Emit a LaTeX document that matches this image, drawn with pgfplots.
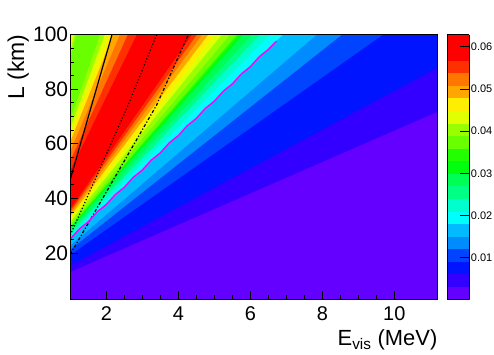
\documentclass[border=0pt]{standalone}
\usepackage{pgfplots}
\pgfplotsset{compat=1.18}
\usepackage{fontspec}
\setmainfont{Liberation Sans}

% ROOT "pretty" palette, 20 contour levels (violet -> red)
\definecolor{c0}{RGB}{99,0,255}
\definecolor{c1}{RGB}{51,0,255}
\definecolor{c2}{RGB}{0,20,255}
\definecolor{c3}{RGB}{0,68,255}
\definecolor{c4}{RGB}{0,139,255}
\definecolor{c5}{RGB}{0,187,255}
\definecolor{c6}{RGB}{0,255,252}
\definecolor{c7}{RGB}{0,255,204}
\definecolor{c8}{RGB}{0,255,133}
\definecolor{c9}{RGB}{0,255,85}
\definecolor{c10}{RGB}{0,255,14}
\definecolor{c11}{RGB}{34,255,0}
\definecolor{c12}{RGB}{105,255,0}
\definecolor{c13}{RGB}{153,255,0}
\definecolor{c14}{RGB}{224,255,0}
\definecolor{c15}{RGB}{255,238,0}
\definecolor{c16}{RGB}{255,167,0}
\definecolor{c17}{RGB}{255,119,0}
\definecolor{c18}{RGB}{255,48,0}
\definecolor{c19}{RGB}{255,0,0}
\definecolor{rootmag}{RGB}{255,0,255}

\begin{document}
\begin{tikzpicture}
\useasboundingbox (-70.3bp,-55.7bp) rectangle (423.7bp,299.3bp);
\begin{axis}[
  at={(0,0)}, anchor=south west,
  scale only axis, width=367.2bp, height=264.8bp,
  xmin=1, xmax=11.2, ymin=3, ymax=100,
  axis on top,
  xtick={2,4,6,8,10}, ytick={20,40,60,80,100},
  minor x tick num=3, minor y tick num=3,
  tick align=inside, tick pos=left,
  major tick length=8bp, minor tick length=4bp,
  tick style={black, line width=0.6bp},
  axis line style={line width=0.6bp},
  /pgf/number format/assume math mode=true,
  xticklabel style={font=\fontsize{20}{24}\selectfont, anchor=base, yshift=-21.4bp, inner sep=0pt},
  yticklabel style={font=\fontsize{21}{25}\selectfont, anchor=east, inner sep=0pt, xshift=-2bp},
  xlabel={E\textsubscript{vis} (MeV)},
  ylabel={L (km)},
  every axis x label/.style={at={(axis description cs:1,-0.1726)}, anchor=base east, font=\fontsize{22}{26}\selectfont, inner sep=0pt},
  every axis y label/.style={at={(axis description cs:-0.126,1)}, rotate=90, anchor=base east, font=\fontsize{23}{27}\selectfont, inner sep=0pt},
  colormap={rootpal}{rgb255=(99,0,255) rgb255=(51,0,255) rgb255=(0,20,255) rgb255=(0,68,255)
    rgb255=(0,139,255) rgb255=(0,187,255) rgb255=(0,255,252) rgb255=(0,255,204)
    rgb255=(0,255,133) rgb255=(0,255,85) rgb255=(0,255,14) rgb255=(34,255,0)
    rgb255=(105,255,0) rgb255=(153,255,0) rgb255=(224,255,0) rgb255=(255,238,0)
    rgb255=(255,167,0) rgb255=(255,119,0) rgb255=(255,48,0) rgb255=(255,0,0) rgb255=(255,0,0)},
  colormap access=piecewise constant,
  point meta min=0.0001, point meta max=0.0629,
  colorbar,
  colorbar style={
    scale only axis, width=22.4bp, height=264.8bp,
    at={(parent axis.north east)}, anchor=north west, xshift=0.8bp,
    ytick={0.01,0.02,0.03,0.04,0.05,0.06},
    scaled y ticks=false,
    tick align=inside, ytick pos=right, yticklabel pos=right,
    major tick length=9bp, tick style={black, line width=0.6bp},
    axis line style={line width=0.5bp},
    /pgf/number format/assume math mode=true,
    yticklabel style={font=\fontsize{11}{13}\selectfont, /pgf/number format/.cd, fixed, fixed zerofill, precision=2, /tikz/.cd, anchor=west, inner sep=0pt, xshift=1.5bp},
  },
]
% level bands: boundaries read as straight lines fanning out of (-0.75,3)
\addplot[draw=none, fill=c0] coordinates {(1,3) (11.2,3) (11.2,100) (1,100)} -- cycle;
\addplot[draw=none, fill=c1] coordinates {(-0.75,3) (12.25,77.75) (12.25,1000) (-0.75,1000)} -- cycle;
\addplot[draw=none, fill=c2] coordinates {(-0.75,3) (12.25,95.30) (12.25,1000) (-0.75,1000)} -- cycle;
\addplot[draw=none, fill=c3] coordinates {(-0.75,3) (12.25,123.77) (12.25,1000) (-0.75,1000)} -- cycle;
\addplot[draw=none, fill=c4] coordinates {(-0.75,3) (12.25,138.59) (12.25,1000) (-0.75,1000)} -- cycle;
\addplot[draw=none, fill=c5] coordinates {(-0.75,3) (12.25,149.64) (12.25,1000) (-0.75,1000)} -- cycle;
\addplot[draw=none, fill=c6] coordinates {(-0.75,3) (12.25,167.58) (12.25,1000) (-0.75,1000)} -- cycle;
\addplot[draw=none, fill=c7] coordinates {(-0.75,3) (12.25,175.77) (12.25,1000) (-0.75,1000)} -- cycle;
\addplot[draw=none, fill=c8] coordinates {(-0.75,3) (12.25,182.66) (12.25,1000) (-0.75,1000)} -- cycle;
\addplot[draw=none, fill=c9] coordinates {(-0.75,3) (12.25,188.38) (12.25,1000) (-0.75,1000)} -- cycle;
\addplot[draw=none, fill=c10] coordinates {(-0.75,3) (12.25,195.53) (12.25,1000) (-0.75,1000)} -- cycle;
\addplot[draw=none, fill=c11] coordinates {(-0.75,3) (12.25,198.26) (12.25,1000) (-0.75,1000)} -- cycle;
\addplot[draw=none, fill=c12] coordinates {(-0.75,3) (12.25,200.60) (12.25,1000) (-0.75,1000)} -- cycle;
\addplot[draw=none, fill=c13] coordinates {(-0.75,3) (12.25,206.71) (12.25,491.8)} -- cycle;
\addplot[draw=none, fill=c14] coordinates {(-0.75,3) (12.25,214.64) (12.25,468.27)} -- cycle;
\addplot[draw=none, fill=c15] coordinates {(-0.75,3) (12.25,221.53) (12.25,448.64)} -- cycle;
\addplot[draw=none, fill=c16] coordinates {(-0.75,3) (12.25,228.94) (12.25,431.87)} -- cycle;
\addplot[draw=none, fill=c17] coordinates {(-0.75,3) (12.25,236.09) (12.25,405.87)} -- cycle;
\addplot[draw=none, fill=c18] coordinates {(-0.75,3) (12.25,242.33) (12.25,379.48)} -- cycle;
\addplot[draw=none, fill=c19] coordinates {(-0.75,3) (12.25,248.83) (12.25,353.22)} -- cycle;
% second rise in the top-left corner
\addplot[draw=none, fill=c13] coordinates {(-0.75,3) (12.25,659.5) (-0.75,659.5)} -- cycle;
\addplot[draw=none, fill=c14] coordinates {(-0.75,3) (12.25,679.0) (-0.75,679.0)} -- cycle;
\addplot[draw=none, fill=c15] coordinates {(-0.75,3) (12.25,694.6) (-0.75,694.6)} -- cycle;
\addplot[draw=none, fill=c16] coordinates {(-0.75,3) (12.25,711.5) (-0.75,711.5)} -- cycle;

% contour lines
\addplot[black, line width=1.2bp] coordinates {(1,47) (2.16,100)};
\addplot[black, line width=1.2bp, dotted] coordinates {(1,26.5) (2.61,74.2) (3.40,100)};
\addplot[black, line width=1.2bp, dash dot] coordinates {(1,19.5) (3.40,74.2) (4.28,100)};
\addplot[rootmag, line width=1.5bp] coordinates {
  (1.00,25.09) (1.25,28.74) (1.50,31.40) (1.75,35.05) (2.00,37.71) (2.25,41.36)
  (2.50,44.02) (2.75,47.67) (3.00,50.33) (3.25,53.98) (3.50,56.64) (3.75,60.29)
  (4.00,62.95) (4.25,66.60) (4.50,69.26) (4.75,72.91) (5.00,75.57) (5.25,79.22)
  (5.50,81.88) (5.75,85.53) (6.00,88.19) (6.25,91.84) (6.50,94.50) (6.73,97.60)};

\node[anchor=base west, inner sep=0pt, font=\fontsize{9}{10}\selectfont] at (axis description cs:1.0632,1.0057) {×10\textsuperscript{-3}};
\end{axis}
\end{tikzpicture}
\end{document}
